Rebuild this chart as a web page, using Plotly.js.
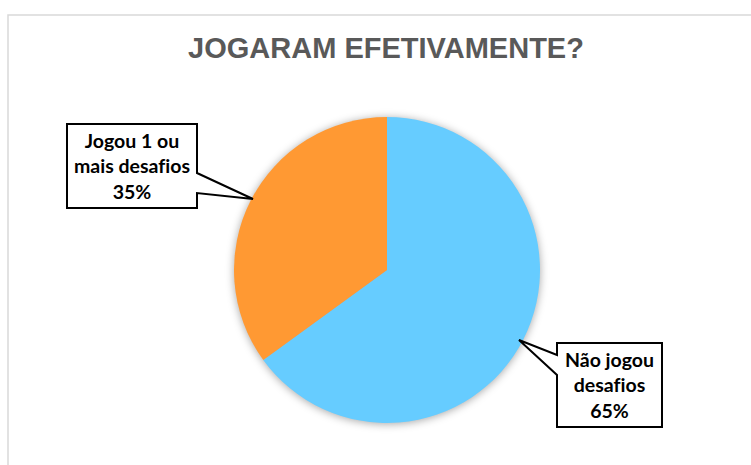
<!DOCTYPE html>
<html>
<head>
<meta charset="utf-8">
<script src="https://cdn.plot.ly/plotly-3.0.1.min.js"></script>
<style>
  html, body { margin: 0; padding: 0; background: #fff; }
  #chart { width: 751px; height: 465px; }
  .pielayer .trace { filter: drop-shadow(0px 1px 4px rgba(0,0,0,0.35)); }
  .annotation-text { font-variant-ligatures: none; font-feature-settings: "liga" 0; }
</style>
</head>
<body>
<div id="chart"></div>
<script>
// ---- data ----
var categories = ['Não jogou desafios', 'Jogou 1 ou mais desafios'];
var values = [65, 35];
var calloutLines = [['Não jogou', 'desafios'], ['Jogou 1 ou', 'mais desafios']];
var sliceColors = ['#66CCFF', '#FF9933'];
var chartTitle = 'JOGARAM EFETIVAMENTE?';

// ---- layout helpers (pixel -> paper) ----
var W = 751, H = 465;
function px(x) { return x / W; }
function py(y) { return 1 - y / H; }
function pathFrom(points) {
  return points.map(function (p, i) {
    return (i === 0 ? 'M' : 'L') + px(p[0]).toFixed(5) + ',' + py(p[1]).toFixed(5);
  }).join(' ') + ' Z';
}

var cx = 387, cy = 270, r = 153;
var total = values.reduce(function (a, b) { return a + b; }, 0);
function pct(v) { return Math.round(v / total * 100) + '%'; }

var trace = {
  type: 'pie',
  labels: categories,
  values: values,
  sort: false,
  direction: 'clockwise',
  rotation: 0,
  textinfo: 'none',
  hoverinfo: 'label+percent',
  marker: { colors: sliceColors, line: { width: 0 } },
  domain: { x: [px(cx - r), px(cx + r)], y: [py(cy + r), py(cy - r)] },
  showlegend: false
};

// callout outlines (box + pointer)
var calloutRight = [[557,343],[662,343],[662,427],[557,427],[557,375],[519,340],[557,355]];
var calloutLeft = [[67,124],[197,124],[197,173],[253,199],[197,193],[197,208],[67,208]];

var shapes = [
  { type: 'rect', xref: 'paper', yref: 'paper', x0: px(8), x1: px(770), y0: py(15), y1: py(490),
    line: { color: '#d9d9d9', width: 1.5 }, fillcolor: 'rgba(0,0,0,0)', layer: 'below' },
  { type: 'path', xref: 'paper', yref: 'paper', path: pathFrom(calloutRight),
    line: { color: '#000', width: 2 }, fillcolor: '#fff', layer: 'above' },
  { type: 'path', xref: 'paper', yref: 'paper', path: pathFrom(calloutLeft),
    line: { color: '#000', width: 2 }, fillcolor: '#fff', layer: 'above' }
];

var annFont = { family: 'Lato, "Open Sans", sans-serif', size: 19.5, color: '#000', weight: 'bold' };
var annotations = [
  { xref: 'paper', yref: 'paper', x: px(609.5), y: py(385), xanchor: 'center', yanchor: 'middle',
    showarrow: false, align: 'center', font: annFont,
    text: calloutLines[0].concat([pct(values[0])]).join('<br>') },
  { xref: 'paper', yref: 'paper', x: px(132), y: py(166), xanchor: 'center', yanchor: 'middle',
    showarrow: false, align: 'center', font: annFont,
    text: calloutLines[1].concat([pct(values[1])]).join('<br>') }
];

var layout = {
  width: W, height: H,
  margin: { l: 0, r: 0, t: 0, b: 0 },
  paper_bgcolor: '#fff',
  title: {
    text: chartTitle,
    x: px(386), xanchor: 'center',
    y: py(48), yanchor: 'middle',
    font: { family: '"Liberation Sans", Arial, sans-serif', size: 29, color: '#595959', weight: 'bold' }
  },
  shapes: shapes,
  annotations: annotations
};

Plotly.newPlot('chart', [trace], layout, { displayModeBar: false, staticPlot: true });
</script>
</body>
</html>
